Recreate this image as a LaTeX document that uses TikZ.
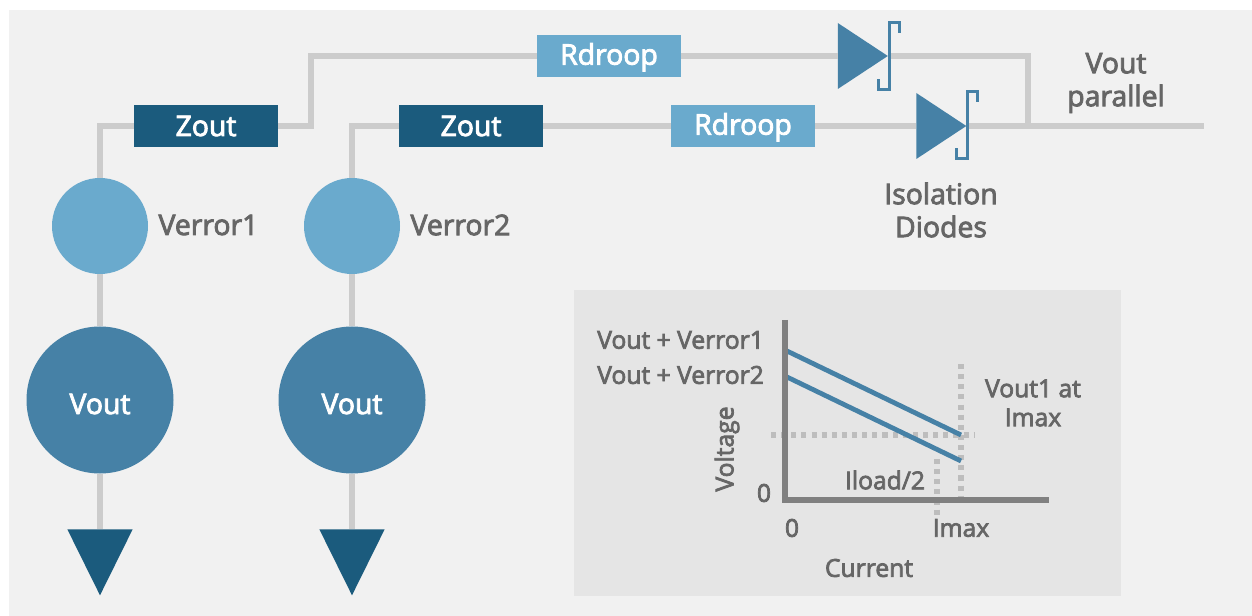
\documentclass[tikz,border=0pt]{standalone}
\usepackage{fontspec}
\setmainfont{Open Sans}[FakeBold=3]
\usetikzlibrary{shapes,positioning}
\definecolor{panel}{HTML}{F1F1F1}
\definecolor{inset}{HTML}{E5E5E5}
\definecolor{wire}{HTML}{CCCCCC}
\definecolor{navy}{HTML}{1B5B7D}
\definecolor{sky}{HTML}{6AAACD}
\definecolor{steel}{HTML}{4681A6}
\definecolor{label}{HTML}{666666}
\tikzset{
  wire/.style={draw=wire, line width=4.2pt},
  zbox/.style={fill=navy, text=white, minimum width=108pt, minimum height=31.5pt, inner sep=0pt, text height=15pt, text depth=0pt, font=\fontsize{21.3}{24}\selectfont},
  rbox/.style={fill=sky, text=white, minimum width=108pt, minimum height=31.5pt, inner sep=0pt, text height=13pt, text depth=0pt, font=\fontsize{21.3}{24}\selectfont},
  errdot/.style={circle, fill=sky, minimum size=72pt, inner sep=0pt},
  srcdot/.style={circle, fill=steel, text=white, minimum size=110.25pt, inner sep=0pt, text height=21pt, text depth=0pt, font=\fontsize{21.3}{24}\selectfont},
  gnd/.style={isosceles triangle, isosceles triangle stretches, shape border rotate=-90, fill=navy, minimum width=49pt, minimum height=49.5pt, inner sep=0pt},
  diode/.style={isosceles triangle, isosceles triangle stretches, fill=steel, minimum width=49.5pt, minimum height=37.5pt, inner sep=0pt},
  hook/.style={draw=steel, line width=2pt},
  txt/.style={text=label, align=center, inner sep=0pt, font=\fontsize{21.3}{24.75}\selectfont},
  small/.style={text=label, align=center, inner sep=0pt, font=\fontsize{18.5}{21.75}\selectfont},
  axis/.style={draw=black!50, line width=4pt},
  trace/.style={draw=steel, line width=3.6pt},
  guide/.style={draw=black!26, line width=3.8pt, dash pattern=on 3.8pt off 3.8pt},
}
\begin{document}
\begin{tikzpicture}[x=0.75pt, y=-0.75pt]
    \useasboundingbox (0,0) rectangle (1252,616);
    \fill[panel] (9,10) rectangle (1252,616);
    \fill[inset] (574,290) rectangle (1121,596);

    % first branch
    \node[srcdot] (V1) at (100,400) {Vout};
    \node[errdot] (E1) at (100,226) {};
    \node[gnd, anchor=apex] (G1) at (100,596) {};
    \node[zbox] (Z1) at (206,126) {Zout};
    \node[rbox] (R1) at (609,56) {Rdroop};
    \node[diode, anchor=apex] (D1) at (888.5,56) {};
    \coordinate (B1) at (311,56);
    \coordinate (J1) at (1028,56);
    \node[txt, right = 7.5pt of E1, yshift=0.75pt] (L1) {Verror1};

    % second branch
    \node[srcdot] (V2) at (352,400) {Vout};
    \node[errdot] (E2) at (352,226) {};
    \node[gnd, anchor=apex] (G2) at (352,596) {};
    \node[zbox] (Z2) at (471,126) {Zout};
    \node[rbox] (R2) at (743,126) {Rdroop};
    \node[diode, anchor=apex] (D2) at (967,126) {};
    \coordinate (J2) at (1028,126);
    \coordinate (OUT) at (1204,126);
    \node[txt, right = 7.5pt of E2, yshift=0.75pt] (L2) {Verror2};

    \draw[wire] (G1.lower side) -- (V1);
    \draw[wire] (V1) -- (E1);
    \draw[wire] (E1) |- (Z1);
    \draw[wire] (Z1) -| (B1) -- (R1);
    \draw[wire] (R1) -- (D1);
    \draw[wire] (D1.apex) -- (J1) -- (J2);
    \draw[wire] (G2.lower side) -- (V2);
    \draw[wire] (V2) -- (E2);
    \draw[wire] (E2) |- (Z2);
    \draw[wire] (Z2) -- (R2);
    \draw[wire] (R2) -- (D2);
    \draw[wire] (D2.apex) -- (OUT);

    \draw[hook] (899.7,33) -- (899.7,22.3) -- (889.5,22.3) -- (889.5,89.7) -- (878.7,89.7) -- (878.7,79.3);
    \draw[hook] (977.7,102) -- (977.7,91.3) -- (967.5,91.3) -- (967.5,158.7) -- (956.7,158.7) -- (956.7,148.3);

    \node[txt] (VP) at (1116,83) {Vout\\parallel};
    \node[txt] (ID) at (941,210) {Isolation\\Diodes};

    % current sharing plot
    \coordinate (O) at (785,500);
    \coordinate (VT) at (785,320);
    \coordinate (CT) at (1049,500);
    \draw[guide] (771,435) -- (975,435);
    \draw[guide] (961,364) -- (961,497);
    \draw[guide] (937,459) -- (937,515);
    \draw[trace] (787,351) -- (961,435);
    \draw[trace] (787,377) -- (961,461);
    \draw[axis] (VT) -- (O) -- (CT);

    \node[small, anchor=west] (T1) at (597,340) {Vout + Verror1};
    \node[small, anchor=west] (T2) at (597,375) {Vout + Verror2};
    \node[small] (T3) at (1033,403) {Vout1 at\\Imax};
    \node[small, rotate=90] (T4) at (727,449) {Voltage};
    \node[small] (T5) at (764,493) {0};
    \node[small] (T6) at (792,528) {0};
    \node[small] (T7) at (885,480) {Iload/2};
    \node[small] (T8) at (961,528) {Imax};
    \node[small] (T9) at (869,568) {Current};
\end{tikzpicture}
\end{document}
